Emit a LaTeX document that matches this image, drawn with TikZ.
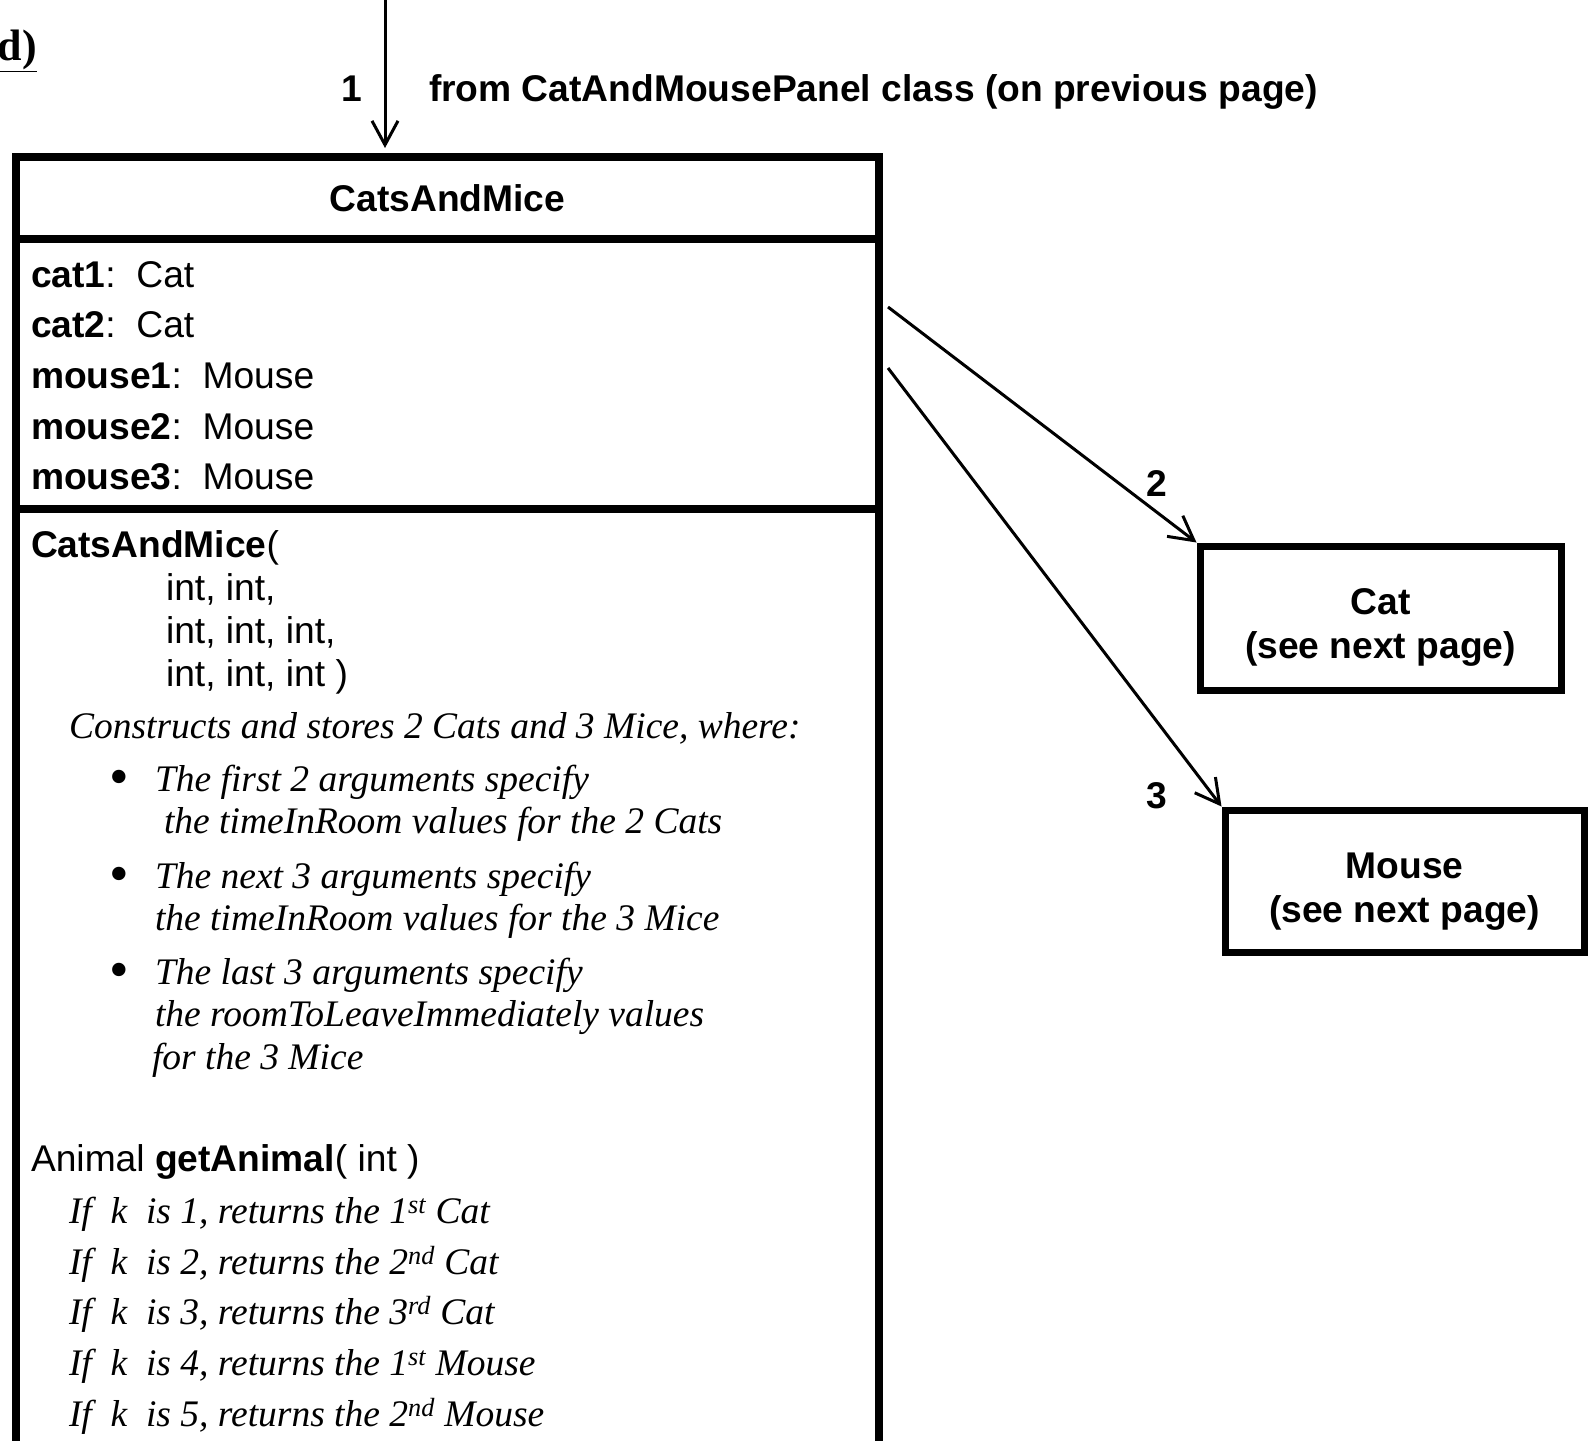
\documentclass[tikz,border=0pt]{standalone}
\usepackage{fontspec}
\setmainfont{Liberation Serif}
\setsansfont{Liberation Sans}
\usetikzlibrary{arrows.meta}
\tikzset{
  stxt/.style={font=\sffamily\fontsize{37.2}{43}\selectfont, inner sep=0pt, outer sep=0pt},
  sbold/.style={font=\sffamily\bfseries\fontsize{37.2}{43}\selectfont, inner sep=0pt, outer sep=0pt},
  itxt/.style={font=\rmfamily\itshape\fontsize{37.5}{43}\selectfont, inner sep=0pt, outer sep=0pt},
  bul/.style={font=\rmfamily\fontsize{56}{43}\selectfont, inner sep=0pt, outer sep=0pt},
  classpart/.style={draw, line width=8pt, rectangle, inner sep=0pt, outer sep=0pt, minimum width=863pt, anchor=north west},
  refbox/.style={draw, line width=7pt, rectangle, inner sep=0pt},
  conn/.style={line width=3pt, -{Straight Barb[length=24pt,width=26pt]}}
}
\begin{document}
\begin{tikzpicture}[x=1pt, y=-1pt]
\useasboundingbox (0,0) rectangle (1589,1440);
\clip (0,0) rectangle (1589,1440);
% heading fragment
\node[font=\rmfamily\bfseries\fontsize{44}{50}\selectfont, inner sep=0pt, anchor=base east] (dlab) at (37,60) {\underline{d)}};
% class box
\node[classpart, minimum height=81.5pt, sbold] (header) at (16,157) {CatsAndMice};
\node[classpart, minimum height=270.5pt] (attrs) at (16,238.5) {};
\node[classpart, minimum height=1000pt] (methods) at (16,509) {};
% attributes
\node[stxt, anchor=base west] (at1) at (31,287) {\textbf{cat1}:\ \ Cat};
\node[stxt, anchor=base west] (at2) at (31,337) {\textbf{cat2}:\ \ Cat};
\node[stxt, anchor=base west] (at3) at (31,388) {\textbf{mouse1}:\ \ Mouse};
\node[stxt, anchor=base west] (at4) at (31,439) {\textbf{mouse2}:\ \ Mouse};
\node[stxt, anchor=base west] (at5) at (31,489) {\textbf{mouse3}:\ \ Mouse};
% constructor
\node[stxt, anchor=base west] (m1) at (31,557) {\textbf{CatsAndMice}(};
\node[stxt, anchor=base west] (m1a) at (166,600) {int, int,};
\node[stxt, anchor=base west] (m1b) at (166,643) {int, int, int,};
\node[stxt, anchor=base west] (m1c) at (166,686) {int, int, int )};
\node[itxt, anchor=base west] (d0) at (69,738) {Constructs and stores 2 Cats and 3 Mice, where:};
\node[bul, anchor=base] (b1) at (119,795) {\textbullet};
\node[itxt, anchor=base west] (d1) at (155,791) {The first 2 arguments specify};
\node[itxt, anchor=base west] (d1b) at (164,833) {the timeInRoom values for the 2 Cats};
\node[bul, anchor=base] (b2) at (119,892) {\textbullet};
\node[itxt, anchor=base west] (d2) at (155,888) {The next 3 arguments specify};
\node[itxt, anchor=base west] (d2b) at (155,930) {the timeInRoom values for the 3 Mice};
\node[bul, anchor=base] (b3) at (119,988) {\textbullet};
\node[itxt, anchor=base west] (d3) at (155,984) {The last 3 arguments specify};
\node[itxt, anchor=base west] (d3b) at (155,1026) {the roomToLeaveImmediately values};
\node[itxt, anchor=base west] (d3c) at (152,1069) {for the 3 Mice};
% getAnimal
\node[stxt, anchor=base west] (m2) at (31,1171) {Animal \textbf{getAnimal}( int )};
\node[itxt, anchor=base west] (g1) at (69,1223) {If\ \ k\ \ is 1, returns the 1\textsuperscript{st} Cat};
\node[itxt, anchor=base west] (g2) at (69,1274) {If\ \ k\ \ is 2, returns the 2\textsuperscript{nd} Cat};
\node[itxt, anchor=base west] (g3) at (69,1324) {If\ \ k\ \ is 3, returns the 3\textsuperscript{rd} Cat};
\node[itxt, anchor=base west] (g4) at (69,1375) {If\ \ k\ \ is 4, returns the 1\textsuperscript{st} Mouse};
\node[itxt, anchor=base west] (g5) at (69,1426) {If\ \ k\ \ is 5, returns the 2\textsuperscript{nd} Mouse};
% referenced classes
\node[refbox, minimum width=361pt, minimum height=144pt] (cat) at (1380.5,618) {};
\node[sbold, anchor=base] (catname) at (1380.5,614) {Cat};
\node[sbold, anchor=base] (catnote) at (1380.5,658) {(see next page)};
\node[refbox, minimum width=359pt, minimum height=142pt] (mouse) at (1404.5,881) {};
\node[sbold, anchor=base] (mousename) at (1404.5,878) {Mouse};
\node[sbold, anchor=base] (mousenote) at (1404.5,922) {(see next page)};
% connectors
\coordinate (src1) at (385,-2);
\coordinate (src2) at (888,307);
\coordinate (src3) at (888,368);
\draw[conn, shorten >=9pt] (src1) -- (src1 |- header.north);
\draw[conn] (src2) -- (cat.north west);
\draw[conn] (src3) -- (mouse.north west);
% connector labels
\node[sbold, anchor=base] (l1) at (352,101) {1};
\node[sbold, anchor=base west] (l1t) at (429,101) {from CatAndMousePanel class (on previous page)};
\node[sbold, anchor=base] (l2) at (1157,496) {2};
\node[sbold, anchor=base] (l3) at (1157,808) {3};
\end{tikzpicture}
\end{document}
